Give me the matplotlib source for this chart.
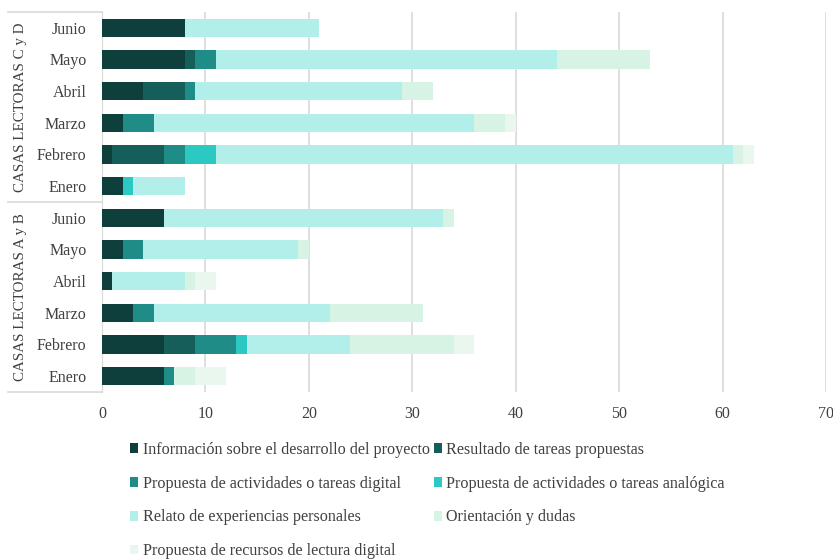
import numpy as np
import matplotlib.pyplot as plt
import matplotlib.transforms as mtransforms

plt.rcParams['font.family'] = ['Liberation Serif', 'DejaVu Serif']

# filas de arriba a abajo
meses = ['Junio', 'Mayo', 'Abril', 'Marzo', 'Febrero', 'Enero',
         'Junio', 'Mayo', 'Abril', 'Marzo', 'Febrero', 'Enero']
grupos = ['CASAS LECTORAS C y D', 'CASAS LECTORAS A y B']

series = ['Información sobre el desarrollo del proyecto',
          'Resultado de tareas propuestas',
          'Propuesta de actividades o tareas digital',
          'Propuesta de actividades o tareas analógica',
          'Relato de experiencias personales',
          'Orientación y dudas',
          'Propuesta de recursos de lectura digital']

info      = [8, 8, 4, 2, 1, 2,   6, 2, 1, 3, 6, 6]
resultado = [0, 1, 4, 0, 5, 0,   0, 0, 0, 0, 3, 0]
prop_dig  = [0, 2, 1, 3, 2, 0,   0, 2, 0, 2, 4, 1]
prop_ana  = [0, 0, 0, 0, 3, 1,   0, 0, 0, 0, 1, 0]
relato    = [13, 33, 20, 31, 50, 5,   27, 15, 7, 17, 10, 0]
orient    = [0, 9, 3, 3, 1, 0,   1, 1, 1, 9, 10, 2]
recursos  = [0, 0, 0, 1, 1, 0,   0, 0, 2, 0, 2, 3]

colores = ['#0e3f3d', '#155e5a', '#1f8c87', '#2cc9c3', '#b2efeb', '#d7f3e3', '#eaf7ef']

fig = plt.figure(figsize=(8.33, 5.6), dpi=100)
ax = fig.add_axes([0.1224, 0.30, 0.8692, 0.6786])

y = np.arange(len(meses))
izq = np.zeros(len(meses))
barras = []
for nombre, vals, c in zip(series, [info, resultado, prop_dig, prop_ana, relato, orient, recursos], colores):
    b = ax.barh(y, vals, left=izq, height=0.57, color=c, label=nombre, zorder=3)
    barras.append(b)
    izq += np.array(vals)

ax.set_ylim(11.5, -0.5)
ax.set_xlim(0, 70)
ax.set_xticks(np.arange(0, 71, 10))
ax.set_yticks(y)
ax.set_yticklabels(meses)
ax.tick_params(axis='y', length=0, pad=11, labelsize=11.5, labelcolor='#404040')
ax.tick_params(axis='x', length=0, pad=10, labelsize=11.5, labelcolor='#404040')
ax.grid(axis='x', color='#d9d9d9', linewidth=1.2, zorder=0)
for s in ['top', 'right', 'bottom']:
    ax.spines[s].set_visible(False)
ax.spines['left'].set_color('#d9d9d9')

# caja de grupos a la izquierda
tr = mtransforms.blended_transform_factory(fig.transFigure, ax.transData)
x0 = 8 / 833
x1 = 102 / 833
for yy in [-0.5, 5.5, 11.5]:
    ax.plot([x0, x1], [yy, yy], transform=tr, color='#d9d9d9', lw=1.2, clip_on=False)
ax.text(21 / 833, 2.5, grupos[0], transform=tr, rotation=90, ha='center', va='center',
        fontsize=10.8, color='#404040')
ax.text(21 / 833, 8.5, grupos[1], transform=tr, rotation=90, ha='center', va='center',
        fontsize=10.8, color='#404040')

# leyenda: orden por filas en dos columnas
orden = [0, 2, 4, 6, 1, 3, 5]
fig.legend([barras[i] for i in orden], [series[i] for i in orden],
           ncol=2, loc='upper left', bbox_to_anchor=(0.144, 0.228),
           frameon=False, fontsize=11.6, handlelength=0.55, handleheight=0.55,
           handletextpad=0.25, columnspacing=0.25, labelspacing=1.1,
           labelcolor='#404040', borderpad=0.1)

fig.savefig('out.png', dpi=100)
